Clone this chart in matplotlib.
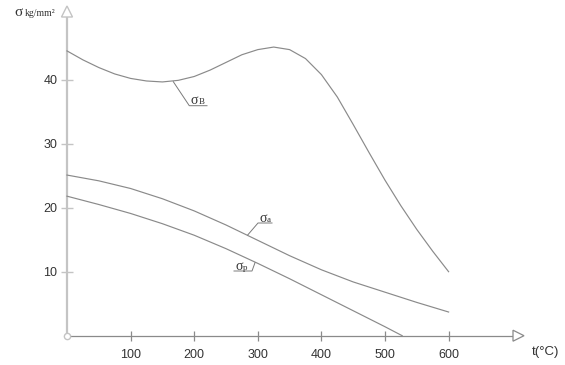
import matplotlib
matplotlib.use("Agg")
import matplotlib.pyplot as plt
from matplotlib.patches import Polygon

# ---- data ----
t_B = [0, 25, 50, 75, 100, 125, 150, 175, 200, 225, 250, 275, 300, 325, 350, 375, 400, 425, 450, 475, 500, 525, 550, 575, 600]
sigma_B = [44.5, 43.1, 41.9, 40.9, 40.2, 39.8, 39.65, 39.9, 40.5, 41.5, 42.7, 43.9, 44.7, 45.1, 44.7, 43.3, 40.8, 37.3, 33.0, 28.6, 24.3, 20.3, 16.6, 13.2, 10.0]

t_a = [0, 50, 100, 150, 200, 250, 300, 350, 400, 450, 500, 550, 600]
sigma_a = [25.1, 24.2, 23.0, 21.4, 19.5, 17.3, 14.9, 12.5, 10.3, 8.4, 6.8, 5.2, 3.7]

t_p = [0, 50, 100, 150, 200, 250, 300, 350, 400, 450, 500, 527]
sigma_p = [21.8, 20.5, 19.1, 17.5, 15.7, 13.6, 11.3, 8.9, 6.4, 3.9, 1.4, 0.0]

x_ticks = [100, 200, 300, 400, 500, 600]
y_ticks = [10, 20, 30, 40]

W, H = 565, 365
fig = plt.figure(figsize=(W / 100, H / 100), dpi=100)

# axes placement in pixels
x0_px, y0_px = 67.0, 335.7       # origin
px_per_x, px_per_y = 0.636, 6.4  # pixels per data unit
right_px, top_px = 535.0, 4.0
xmax = (right_px - x0_px) / px_per_x
ymax = (y0_px - top_px) / px_per_y
ax = fig.add_axes([x0_px / W, (H - y0_px) / H, (right_px - x0_px) / W, (y0_px - top_px) / H])
ax.set_xlim(0, xmax)
ax.set_ylim(0, ymax)
for s in ax.spines.values():
    s.set_visible(False)
ax.patch.set_alpha(0)

def dx(px):
    return px / px_per_x

def dy(px):
    return px / px_per_y

line_col = "#8a8a8a"
yaxis_col = "#c4c4c4"
text_col = "#333333"

# curves
ax.plot(t_B, sigma_B, color=line_col, lw=0.85, clip_on=False)
ax.plot(t_a, sigma_a, color=line_col, lw=0.85, clip_on=False)
ax.plot(t_p, sigma_p, color=line_col, lw=0.85, clip_on=False)

# axis lines with open arrowheads
y_arrow_base = (y0_px - 17) / px_per_y
y_arrow_tip = (y0_px - 6) / px_per_y
ax.plot([0, 0], [0, y_arrow_base], color=yaxis_col, lw=1.6, clip_on=False, zorder=1)
ax.add_patch(Polygon([[-dx(5.5), y_arrow_base], [dx(5.5), y_arrow_base], [0, y_arrow_tip]],
                     closed=True, fc="white", ec=yaxis_col, lw=1.0, clip_on=False))

x_arrow_base = (513 - x0_px) / px_per_x
x_arrow_tip = (524 - x0_px) / px_per_x
ax.plot([0, x_arrow_base], [0, 0], color=line_col, lw=0.9, clip_on=False, zorder=1)
ax.add_patch(Polygon([[x_arrow_base, -dy(5.5)], [x_arrow_base, dy(5.5)], [x_arrow_tip, 0]],
                     closed=True, fc="white", ec=line_col, lw=0.9, clip_on=False))

# origin circle
ax.plot([0], [0], marker="o", ms=4.5, mfc="white", mec=yaxis_col, mew=1.0, clip_on=False, zorder=5)

# ticks
ax.set_xticks(x_ticks)
ax.set_yticks(y_ticks)
ax.set_xticklabels([str(v) for v in x_ticks])
ax.set_yticklabels([str(v) for v in y_ticks])
ax.tick_params(axis="x", direction="inout", length=7, width=0.9, color=line_col,
               labelsize=9, labelcolor=text_col, pad=6)
ax.tick_params(axis="y", direction="inout", length=8, width=1.0, color=yaxis_col,
               labelsize=9, labelcolor=text_col, pad=3)
for lab in ax.get_xticklabels() + ax.get_yticklabels():
    lab.set_family("Liberation Sans")

def fx(px):
    return px / W

def fy(py):
    return 1 - py / H

# axis titles
fig.text(fx(14), fy(16), "σ", fontsize=11, color=text_col, family="Liberation Serif", va="baseline", ha="left")
fig.text(fx(25), fy(16), "kg/mm²", fontsize=7, color=text_col, family="Liberation Serif", va="baseline", ha="left")
fig.text(fx(545), fy(352), "t(°C)", fontsize=9.5, color=text_col, family="Liberation Sans", va="center", ha="center")

# curve labels with leader lines
def tdx(xp):
    return (xp - x0_px) / px_per_x

def tdy(yp):
    return (y0_px - yp) / px_per_y

lc = "#7a7a7a"
# sigma_B
ax.plot([tdx(173.3), tdx(189.3), tdx(207)], [tdy(81.7), tdy(105.7), tdy(105.7)], color=lc, lw=0.7, clip_on=False)
ax.text(tdx(190.5), tdy(104), "σ", fontsize=10, color=text_col, family="Liberation Serif", va="baseline", ha="left")
ax.text(tdx(198.5), tdy(104), "B", fontsize=6.5, color=text_col, family="Liberation Serif", va="baseline", ha="left")
# sigma_a
ax.plot([tdx(247.7), tdx(258), tdx(272)], [tdy(235), tdy(223), tdy(223)], color=lc, lw=0.7, clip_on=False)
ax.text(tdx(259), tdy(221.5), "σ", fontsize=10, color=text_col, family="Liberation Serif", va="baseline", ha="left")
ax.text(tdx(266.5), tdy(221.5), "a", fontsize=6.5, color=text_col, family="Liberation Serif", va="baseline", ha="left")
# sigma_p
ax.plot([tdx(234), tdx(252), tdx(255)], [tdy(271), tdy(271), tdy(262.7)], color=lc, lw=0.7, clip_on=False)
ax.text(tdx(235), tdy(269.5), "σ", fontsize=10, color=text_col, family="Liberation Serif", va="baseline", ha="left")
ax.text(tdx(242.5), tdy(269.5), "p", fontsize=6.5, color=text_col, family="Liberation Serif", va="baseline", ha="left")

fig.savefig("out.png", dpi=100, facecolor="white")
